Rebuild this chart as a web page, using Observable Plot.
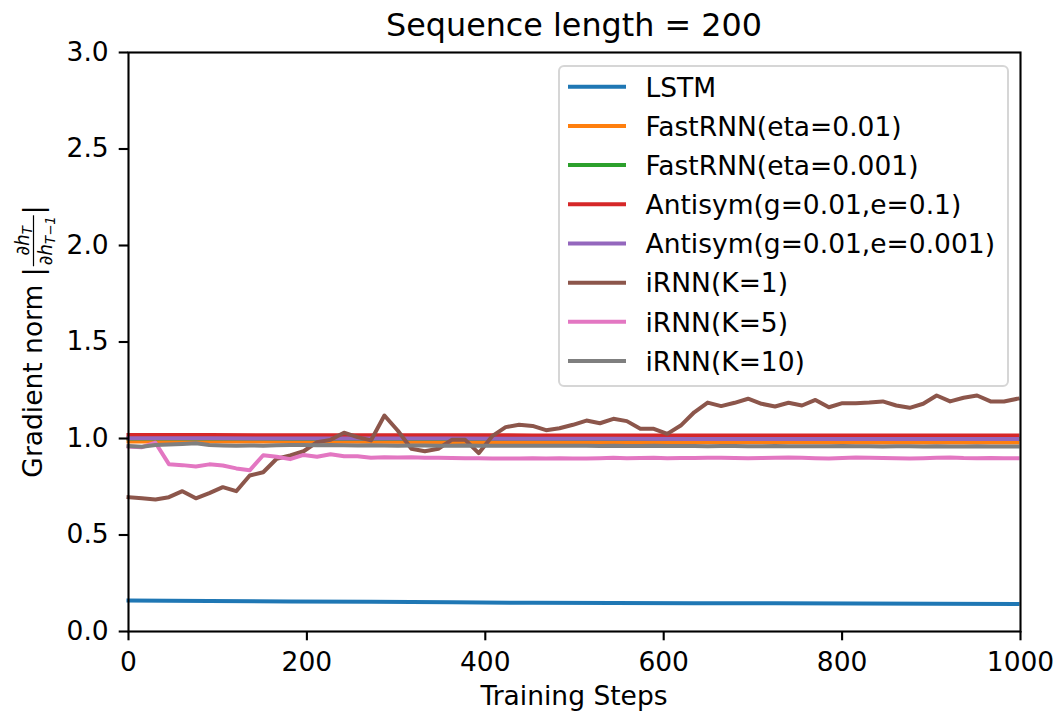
<!DOCTYPE html>
<html><head><meta charset="utf-8">
<script src="https://cdn.jsdelivr.net/npm/d3@7"></script>
<script src="https://cdn.jsdelivr.net/npm/@observablehq/plot@0.6"></script>
<style>body{margin:0;background:#fff;} svg{display:block}</style>
</head><body><div id="chart"></div>
<script>
const seriesNames = ["LSTM", "FastRNN(eta=0.01)", "FastRNN(eta=0.001)", "Antisym(g=0.01,e=0.1)", "Antisym(g=0.01,e=0.001)", "iRNN(K=1)", "iRNN(K=5)", "iRNN(K=10)"];
const seriesColors = ["#1f77b4", "#ff7f0e", "#2ca02c", "#d62728", "#9467bd", "#8c564b", "#e377c2", "#7f7f7f"];
const steps = [0,15.1,30.2,45.3,60.4,75.5,90.6,105.7,120.8,135.9,151,166.1,181.2,196.3,211.4,226.5,241.6,256.7,271.8,286.9,302,317.1,332.2,347.3,362.4,377.5,392.6,407.7,422.8,437.9,453,468.1,483.2,498.3,513.4,528.5,543.6,558.7,573.8,588.9,604,619.1,634.2,649.3,664.4,679.5,694.6,709.7,724.8,739.9,755,770.1,785.2,800.3,815.4,830.5,845.6,860.7,875.8,890.9,906,921.1,936.2,951.3,966.4,981.5,996.6];
const coarseSteps = [0, 90.6, 181.2, 271.8, 362.4, 453, 543.6, 634.2, 724.8, 815.4, 906, 996.6];
const lstm = [0.160, 0.158, 0.156, 0.154, 0.151, 0.149, 0.148, 0.147, 0.146, 0.145, 0.144, 0.143];
const fastEta01 = [0.985, 0.985, 0.984, 0.983, 0.982, 0.981, 0.981, 0.980, 0.980, 0.979, 0.979, 0.979];
const fastEta001 = [1.000, 1.000, 0.999, 0.999, 0.999, 0.999, 0.998, 0.998, 0.998, 0.998, 0.998, 0.998];
const antiE01 = [1.018, 1.018, 1.017, 1.017, 1.017, 1.016, 1.016, 1.016, 1.016, 1.016, 1.016, 1.016];
const antiE0001 = [1.001, 1.001, 1.000, 1.000, 1.000, 0.999, 0.999, 0.998, 0.998, 0.998, 0.998, 0.998];
const irnnK1 = [0.696, 0.690, 0.684, 0.696, 0.727, 0.690, 0.717, 0.748, 0.727, 0.808,
  0.825, 0.895, 0.912, 0.934, 0.981, 0.993, 1.030, 1.007, 0.990, 1.119,
  1.040, 0.947, 0.934, 0.947, 0.993, 0.993, 0.924, 1.012, 1.059, 1.071,
  1.065, 1.043, 1.053, 1.071, 1.093, 1.079, 1.102, 1.090, 1.050, 1.050,
  1.024, 1.067, 1.136, 1.186, 1.168, 1.185, 1.206, 1.180, 1.166, 1.185,
  1.171, 1.200, 1.162, 1.183, 1.183, 1.186, 1.192, 1.171, 1.159, 1.180,
  1.223, 1.192, 1.211, 1.223, 1.192, 1.192, 1.206];
const irnnK5 = [0.958, 0.955, 0.978, 0.867, 0.862, 0.855, 0.866, 0.860, 0.845, 0.835,
  0.913, 0.905, 0.893, 0.915, 0.905, 0.918, 0.908, 0.908, 0.900, 0.903,
  0.902, 0.903, 0.900, 0.900, 0.899, 0.898, 0.898, 0.896, 0.897, 0.897,
  0.898, 0.897, 0.898, 0.896, 0.897, 0.898, 0.900, 0.898, 0.899, 0.900,
  0.898, 0.899, 0.899, 0.900, 0.900, 0.899, 0.898, 0.899, 0.900, 0.901,
  0.900, 0.898, 0.897, 0.899, 0.901, 0.900, 0.899, 0.898, 0.897, 0.898,
  0.900, 0.902, 0.899, 0.898, 0.899, 0.898, 0.898];
const irnnK10 = [0.961, 0.957, 0.966, 0.969, 0.972, 0.975, 0.966, 0.964, 0.962, 0.964,
  0.963, 0.965, 0.966, 0.966, 0.965, 0.966, 0.965, 0.964, 0.965, 0.964,
  0.963, 0.964, 0.964, 0.963, 0.963, 0.964, 0.963, 0.963, 0.962, 0.963,
  0.962, 0.962, 0.963, 0.962, 0.962, 0.961, 0.962, 0.961, 0.961, 0.962,
  0.961, 0.961, 0.961, 0.960, 0.961, 0.961, 0.960, 0.960, 0.961, 0.960,
  0.960, 0.960, 0.960, 0.961, 0.960, 0.960, 0.959, 0.960, 0.960, 0.959,
  0.960, 0.959, 0.959, 0.960, 0.959, 0.959, 0.959];
const xTicks = [0, 200, 400, 600, 800, 1000];
const yTicks = [0, 0.5, 1.0, 1.5, 2.0, 2.5, 3.0];
const titleText = "Sequence length = 200";
const xLabelText = "Training Steps";
const yLabelText = "Gradient norm ";

const FS = 26.5;
const seriesValues = [lstm, fastEta01, fastEta001, antiE01, antiE0001, irnnK1, irnnK5, irnnK10];
const seriesSteps = [coarseSteps, coarseSteps, coarseSteps, coarseSteps, coarseSteps, steps, steps, steps];
const tables = seriesNames.map((name, k) => seriesValues[k].map((v, i) => ({series: name, step: seriesSteps[k][i], value: v})));

const plot = Plot.plot({
  width: 1060, height: 713,
  marginLeft: 128, marginRight: 40, marginTop: 52, marginBottom: 82,
  style: {fontFamily: "DejaVu Sans", fontSize: FS + "px", background: "white", color: "black"},
  x: {domain: [0, 1000]},
  y: {domain: [0, 3]},
  marks: [
    ...tables.map((rows, k) => Plot.line(rows, {x: "step", y: "value", stroke: seriesColors[k], strokeWidth: 4, strokeLinecap: "square", strokeLinejoin: "round"})),
    Plot.frame({stroke: "black", strokeWidth: 2.1}),
    Plot.axisX({ticks: xTicks, tickSize: 9.3, tickPadding: 11.5, tickFormat: d => String(d), label: null, fontSize: FS, strokeWidth: 2.1}),
    Plot.axisY({ticks: yTicks, tickSize: 9.3, tickPadding: 10.5, tickFormat: d3.format(".1f"), label: null, fontSize: FS, strokeWidth: 2.1})
  ]
});
document.getElementById("chart").appendChild(plot);

const svg = d3.select(plot);
svg.append("text").attr("x", 574).attr("y", 36).attr("text-anchor", "middle").attr("font-size", 31.8).attr("fill", "black").text(titleText);
svg.append("text").attr("x", 574).attr("y", 704.5).attr("text-anchor", "middle").attr("font-size", FS).attr("fill", "black").text(xLabelText);

// y label with fraction
const ylab = svg.append("g").attr("fill", "black").attr("text-anchor", "start");
function piece(parent, txt, size, x, y, italic) {
  const t = parent.append("text").attr("x", x).attr("y", y).attr("font-size", size).attr("text-anchor", "start").text(txt);
  if (italic) t.attr("font-style", "italic");
  return t.node().getComputedTextLength();
}
const fs2 = FS * 0.7, fs3 = FS * 0.5;
let cx = 0;
cx += piece(ylab, yLabelText, FS, cx, 0, false);
cx += piece(ylab, "|", FS, cx, 0, false);
const num = ylab.append("g"), den = ylab.append("g");
let nx = 0;
nx += piece(num, "\u2202", fs2, nx, -13, false);
nx += piece(num, "h", fs2, nx, -13, true);
nx += piece(num, "T", fs3, nx, -10, true);
let dx = 0;
dx += piece(den, "\u2202", fs2, dx, 9.5, false);
dx += piece(den, "h", fs2, dx, 9.5, true);
dx += piece(den, "T\u22121", fs3, dx, 12.5, true);
const fw = Math.max(nx, dx) + 4;
num.attr("transform", `translate(${cx + (fw - nx) / 2},0)`);
den.attr("transform", `translate(${cx + (fw - dx) / 2},0)`);
ylab.append("line").attr("x1", cx + 1).attr("x2", cx + fw - 1).attr("y1", -8.5).attr("y2", -8.5).attr("stroke", "black").attr("stroke-width", 1.2);
cx += fw;
cx += piece(ylab, "|", FS, cx, 0, false);
ylab.attr("transform", `translate(42,${341.5 + cx / 2}) rotate(-90)`);

// legend
const lg = svg.append("g").attr("text-anchor", "start");
lg.append("rect").attr("x", 559).attr("y", 66).attr("width", 449).attr("height", 320).attr("rx", 5)
  .attr("fill", "white").attr("fill-opacity", 0.8).attr("stroke", "#d6d6d6").attr("stroke-width", 2);
seriesNames.forEach((n, k) => {
  const y = 86.7 + k * 39.19;
  lg.append("line").attr("x1", 568).attr("x2", 626).attr("y1", y).attr("y2", y).attr("stroke", seriesColors[k]).attr("stroke-width", 4);
  lg.append("text").attr("x", 645.5).attr("y", y + 9.8).attr("font-size", FS).attr("text-anchor", "start").attr("fill", "black").text(n);
});
</script></body></html>
